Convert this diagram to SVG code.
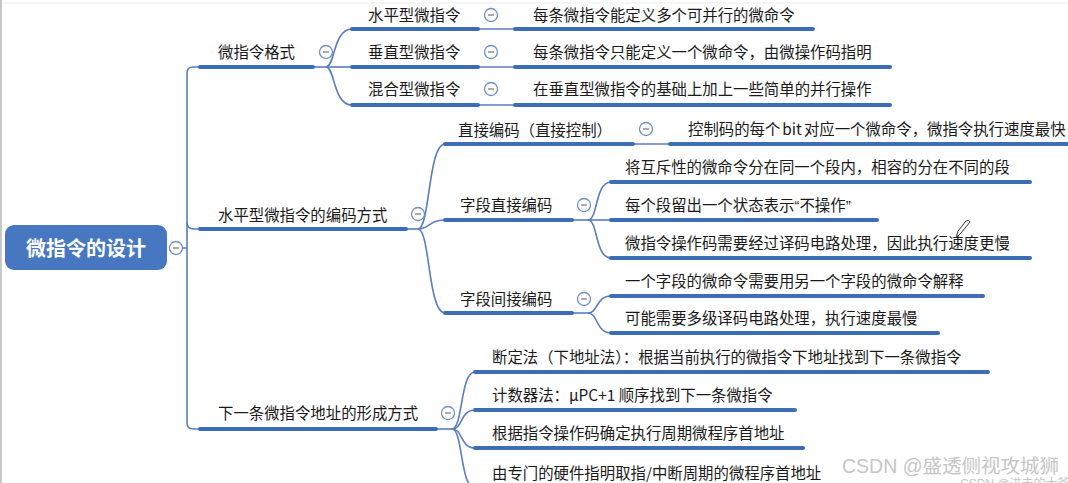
<svg xmlns="http://www.w3.org/2000/svg" width="1068" height="483" viewBox="0 0 1068 483">
<defs>
<style>
.t{font-family:"Noto Sans CJK SC","Noto Sans",sans-serif;font-size:15.4px;fill:#1a1a1a}
.ul{stroke:#3d6db5;stroke-width:4;stroke-linecap:round;fill:none}
.cn{stroke:#5a7ebd;stroke-width:1.6;fill:none}
.cc{fill:#ffffff;stroke:#6d8fc4;stroke-width:1.3}
.cm{stroke:#666;stroke-width:1.1}
.q{font-family:"Liberation Sans",sans-serif}
.wm{font-family:"Liberation Sans","Noto Sans CJK SC",sans-serif;fill:#c6c6c6}
</style>
<g id="col">
<circle class="cc" cx="0" cy="0" r="6.5"/>
<line class="cm" x1="-3" y1="0" x2="3" y2="0"/>
</g>
</defs>
<rect width="1068" height="483" fill="#ffffff"/>
<line x1="0" y1="3" x2="1068" y2="3" stroke="#ececec" stroke-width="1"/>
<line x1="1" y1="0" x2="1" y2="483" stroke="#b4b4b4" stroke-width="1.5"/>

<g id="connectors">
<path class="cn" d="M182,248 H187"/>
<path class="cn" d="M200,67 H193 Q187,67 187,73 V423 Q187,429 193,429 H200"/>
<path class="cn" d="M187,222 Q187,229 194,229 H200"/>
<path class="cn" d="M313,67 H327"/>
<path class="cn" d="M326,67 C335,67 333,29 352,29"/>
<path class="cn" d="M326,67 H352"/>
<path class="cn" d="M326,67 C335,67 333,105 352,105"/>
<path class="cn" d="M478,29 H515 M478,67 H515 M478,105 H515"/>
<path class="cn" d="M406,229 H420"/>
<path class="cn" d="M418,229 C430,229 428,144 445,144"/>
<path class="cn" d="M418,229 C430,229 428,220 445,220"/>
<path class="cn" d="M418,229 C430,229 428,313 445,313"/>
<path class="cn" d="M633,144 H670"/>
<path class="cn" d="M572,220 H590"/>
<path class="cn" d="M588,220 C598,220 595,182 611,182"/>
<path class="cn" d="M588,220 H611"/>
<path class="cn" d="M588,220 C598,220 595,258 611,258"/>
<path class="cn" d="M572,313 H590"/>
<path class="cn" d="M588,313 C598,313 596,296 611,296"/>
<path class="cn" d="M588,313 C598,313 596,333 611,333"/>
<path class="cn" d="M436,429 H454"/>
<path class="cn" d="M452,429 C463,429 460,372 475,372"/>
<path class="cn" d="M452,429 C463,429 460,410 475,410"/>
<path class="cn" d="M452,429 C463,429 460,448 475,448"/>
<path class="cn" d="M452,429 C463,429 460,488 475,488"/>
</g>

<g id="root">
<rect x="5" y="225" width="162" height="45" rx="9" fill="#4677c0"/>
<text x="86" y="255.5" text-anchor="middle" style="font-family:'Noto Sans CJK SC',sans-serif;font-size:20px;font-weight:bold;fill:#ffffff">微指令的设计</text>
<use href="#col" x="176" y="248"/>
</g>

<g id="n-format">
<line class="ul" x1="200" y1="67" x2="313" y2="67"/>
<text class="t" x="218" y="57.8">微指令格式</text>
<use href="#col" x="326" y="52"/>
</g>
<g id="n-horizontal">
<line class="ul" x1="352" y1="29" x2="478" y2="29"/>
<text class="t" x="368" y="20.8">水平型微指令</text>
<use href="#col" x="491" y="15"/>
</g>
<g id="n-horizontal-desc">
<line class="ul" x1="515" y1="29" x2="813" y2="29"/>
<text class="t" x="533" y="20.8">每条微指令能定义多个可并行的微命令</text>
</g>
<g id="n-vertical">
<line class="ul" x1="352" y1="67" x2="478" y2="67"/>
<text class="t" x="368" y="57.8">垂直型微指令</text>
<use href="#col" x="491" y="52"/>
</g>
<g id="n-vertical-desc">
<line class="ul" x1="515" y1="67" x2="890" y2="67"/>
<text class="t" x="533" y="57.8">每条微指令只能定义一个微命令，由微操作码指明</text>
</g>
<g id="n-mixed">
<line class="ul" x1="352" y1="105" x2="478" y2="105"/>
<text class="t" x="368" y="94.8">混合型微指令</text>
<use href="#col" x="491" y="89"/>
</g>
<g id="n-mixed-desc">
<line class="ul" x1="515" y1="105" x2="890" y2="105"/>
<text class="t" x="533" y="94.8">在垂直型微指令的基础上加上一些简单的并行操作</text>
</g>

<g id="n-encoding">
<line class="ul" x1="200" y1="229" x2="406" y2="229"/>
<text class="t" x="218" y="220.8">水平型微指令的编码方式</text>
<use href="#col" x="418" y="214"/>
</g>
<g id="n-direct">
<line class="ul" x1="445" y1="144" x2="633" y2="144"/>
<text class="t" x="458" y="135.8">直接编码（直接控制）</text>
<use href="#col" x="646" y="129"/>
</g>
<g id="n-direct-desc">
<line class="ul" x1="670" y1="144" x2="1072" y2="144"/>
<text class="t" x="688" y="134.8">控制码的每个<tspan dx="2">bit</tspan><tspan dx="2">对应一个微命令，微指令执行速度最快</tspan></text>
</g>
<g id="n-field-direct">
<line class="ul" x1="445" y1="220" x2="572" y2="220"/>
<text class="t" x="460" y="210.8">字段直接编码</text>
<use href="#col" x="584" y="205"/>
</g>
<g id="n-fd1">
<line class="ul" x1="611" y1="182" x2="1030" y2="182"/>
<text class="t" x="625" y="172.8">将互斥性的微命令分在同一个段内，相容的分在不同的段</text>
</g>
<g id="n-fd2">
<line class="ul" x1="611" y1="220" x2="877" y2="220"/>
<text class="t" x="625" y="210.8">每个段留出一个状态表示<tspan class="q">“</tspan>不操作<tspan class="q">”</tspan></text>
</g>
<g id="n-fd3">
<line class="ul" x1="611" y1="258" x2="1030" y2="258"/>
<text class="t" x="625" y="248.8">微指令操作码需要经过译码电路处理，因此执行速度更慢</text>
</g>
<g id="n-field-indirect">
<line class="ul" x1="445" y1="313" x2="572" y2="313"/>
<text class="t" x="460" y="304.8">字段间接编码</text>
<use href="#col" x="584" y="299"/>
</g>
<g id="n-fi1">
<line class="ul" x1="611" y1="296" x2="983" y2="296"/>
<text class="t" x="625" y="286.8">一个字段的微命令需要用另一个字段的微命令解释</text>
</g>
<g id="n-fi2">
<line class="ul" x1="611" y1="333" x2="938" y2="333"/>
<text class="t" x="625" y="323.8">可能需要多级译码电路处理，执行速度最慢</text>
</g>

<g id="n-next">
<line class="ul" x1="200" y1="429" x2="436" y2="429"/>
<text class="t" x="218" y="418.8">下一条微指令地址的形成方式</text>
<use href="#col" x="448" y="413"/>
</g>
<g id="n-next1">
<line class="ul" x1="475" y1="372" x2="988" y2="372"/>
<text class="t" x="492" y="362.8">断定法（下地址法）：根据当前执行的微指令下地址找到下一条微指令</text>
</g>
<g id="n-next2">
<line class="ul" x1="475" y1="410" x2="795" y2="410"/>
<text class="t" x="492" y="400.8">计数器法：μPC+1 顺序找到下一条微指令</text>
</g>
<g id="n-next3">
<line class="ul" x1="475" y1="448" x2="803" y2="448"/>
<text class="t" x="492" y="438.8">根据指令操作码确定执行周期微程序首地址</text>
</g>
<g id="n-next4">
<text class="t" x="492" y="478.8">由专门的硬件指明取指/中断周期的微程序首地址</text>
</g>

<g id="cursor">
<path d="M956,238 L958,231 L966,221 Q969,219 970,222 L961,233 Z" fill="none" stroke="#333" stroke-width="1"/>
</g>
<g id="watermark">
<text class="wm" x="842" y="472.5" style="font-size:19.5px">CSDN @盛透侧视攻城狮</text>
<text class="wm" x="960" y="488" style="font-size:12px">CSDN @进击的大爷</text>
</g>
</svg>
